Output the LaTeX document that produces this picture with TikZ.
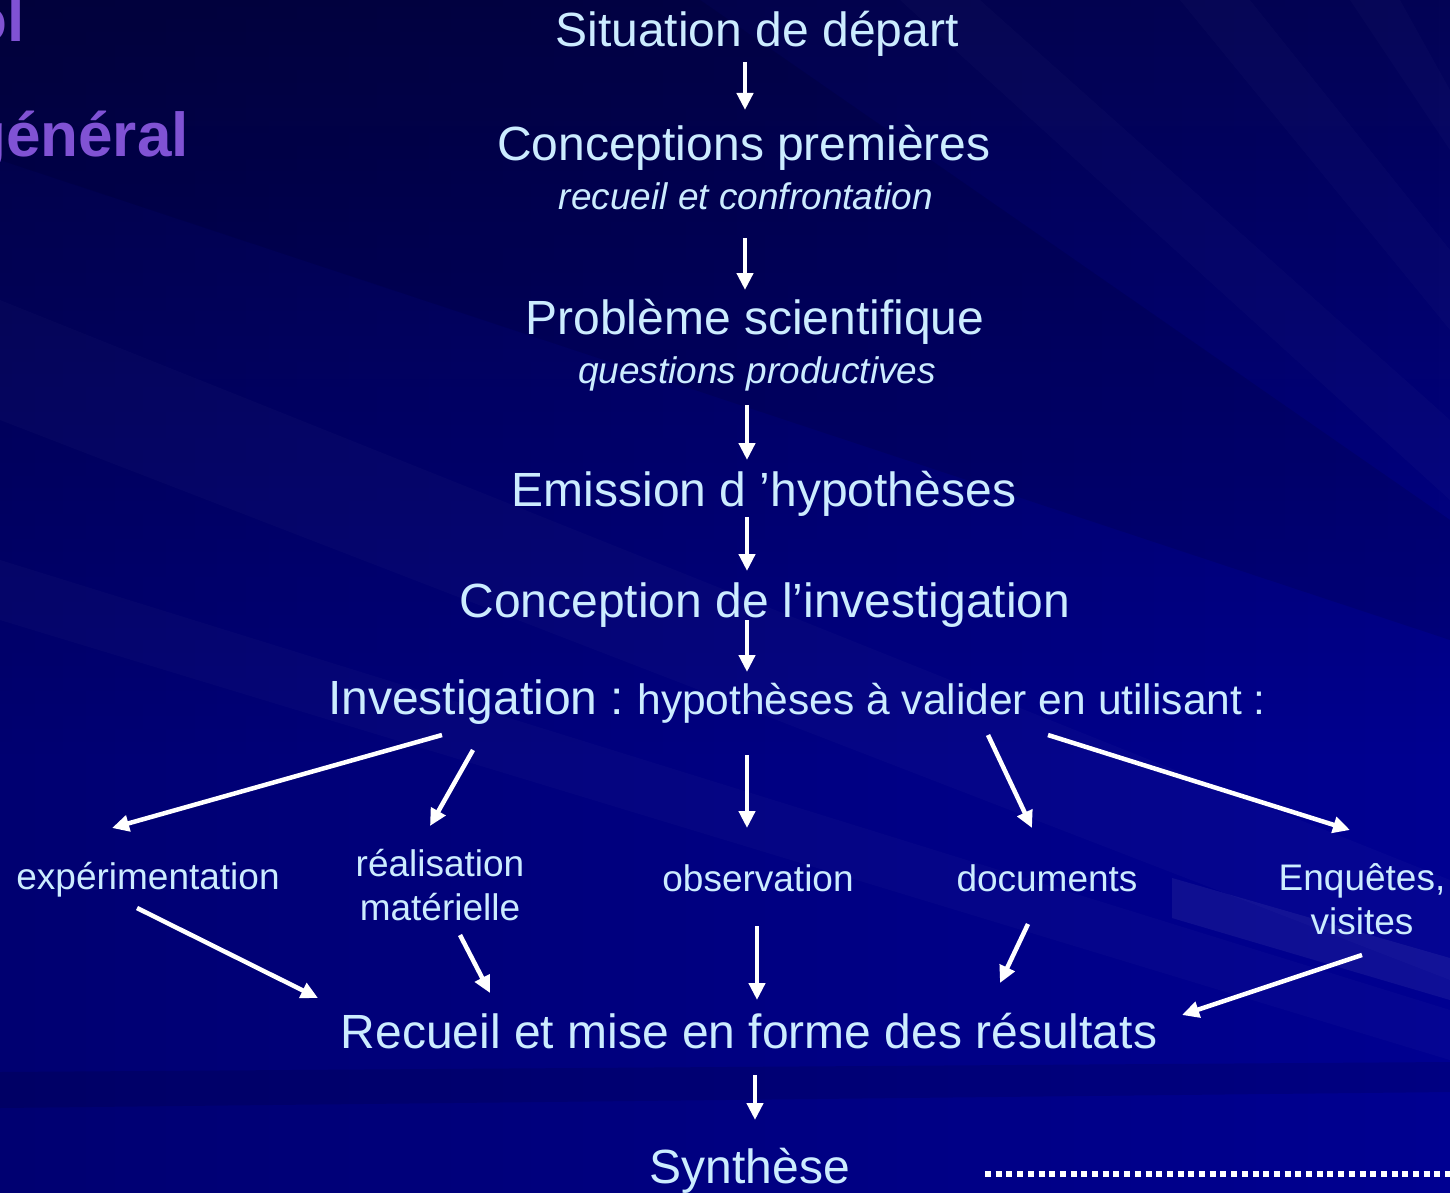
\documentclass[tikz,border=0pt]{standalone}
\usepackage{fontspec}
\setmainfont{Liberation Sans}
\usetikzlibrary{arrows.meta,fadings}
\definecolor{txt}{RGB}{204,236,255}
\definecolor{ttl}{RGB}{128,82,212}
\definecolor{bgA}{RGB}{3,3,85}
\definecolor{bgM}{RGB}{0,0,145}
\begin{document}
\begin{tikzpicture}[x=1pt,y=-1pt,
  lbl/.style={text=txt, inner sep=0pt, anchor=base},
  big/.style={lbl, font=\fontsize{48}{56}\selectfont},
  sub/.style={lbl, font=\itshape\fontsize{37}{44}\selectfont},
  small/.style={text=txt, inner sep=0pt, align=center, font=\fontsize{37}{44}\selectfont},
  ttlstyle/.style={text=ttl, inner sep=0pt, anchor=base west, font=\bfseries\fontsize{62}{70}\selectfont},
  arr/.style={draw=white, line width=4.5pt, -{Triangle[width=16pt,length=17pt]}},
  band/.style={fill=white, fill opacity=0.02, draw=none},
  dband/.style={fill=black, fill opacity=0.10, draw=none}]
\useasboundingbox (0,0) rectangle (1450,1193);
\begin{scope}
\clip (0,0) rectangle (1450,1193);
% background
\fill[bgM] (0,0) rectangle (1450,1193);
\shade[top color=bgA, bottom color=bgM] (0,0) rectangle (1450,760);
\fill[black, opacity=0.22, path fading=east] (0,0) rectangle (1450,1193);
\fill[dband] (0,0) -- (700,0) -- (1450,520) -- (1450,640) -- (0,160) -- cycle;
\fill[band] (0,300) -- (0,420) -- (1450,980) -- (1450,880) -- cycle;
\fill[band] (0,560) -- (0,620) -- (1450,1060) -- (1450,1010) -- cycle;
\fill[band] (900,0) -- (980,0) -- (1450,420) -- (1450,500) -- cycle;
\fill[band] (1180,0) -- (1250,0) -- (1450,250) -- (1450,330) -- cycle;
\fill[band] (1350,0) -- (1400,0) -- (1450,90) -- (1450,150) -- cycle;
\fill[fill=white, fill opacity=0.06] (1172,878) -- (1450,958) -- (1450,1000) -- (1172,918) -- cycle;
\fill[dband] (0,1072) -- (1450,1062) -- (1450,1092) -- (0,1108) -- cycle;

% title fragments (cut off at the left edge)
\node[ttlstyle] (tol) at (-31,42) {ol};
\node[ttlstyle] (tgen) at (-32,157) {général};

% main chain
\node[big] (sit) at (757,47) {Situation de départ};
\node[big] (concp) at (744,161) {Conceptions premières};
\node[sub] (recu) at (746,210) {recueil et confrontation};
\node[big] (prob) at (755,334) {Problème scientifique};
\node[sub] (ques) at (757,383) {questions productives};
\node[big] (emis) at (764,506) {Emission d ’hypothèses};
\node[big] (conc) at (765,617) {Conception de l’investigation};
\node[lbl, anchor=base west] (inv) at (328,714)
  {\fontsize{48}{56}\selectfont Investigation :\hspace{13pt}\fontsize{42.5}{50}\selectfont hypothèses à valider en utilisant :};

% branches
\node[small] (expe) at (148,880) {expérimentation};
\node[small] (real) at (440,885) {réalisation\\matérielle};
\node[small] (obs) at (758,878) {observation};
\node[small] (doc) at (1047,878) {documents};
\node[small] (enq) at (1362,899) {Enquêtes,\\visites};

\node[big] (rec) at (749,1048) {Recueil et mise en forme des résultats};
\node[big] (syn) at (750,1183) {Synthèse};

% arrow end points
\coordinate (v1s) at (745,62);   \coordinate (v1e) at (745,110);
\coordinate (v2s) at (745,238);  \coordinate (v2e) at (745,290);
\coordinate (v3s) at (747,405);  \coordinate (v3e) at (747,460);
\coordinate (v4s) at (747,517);  \coordinate (v4e) at (747,571);
\coordinate (v5s) at (747,620);  \coordinate (v5e) at (747,672);
\coordinate (d1s) at (442,735);  \coordinate (d1e) at (112,828);
\coordinate (d2s) at (473,750);  \coordinate (d2e) at (430,826);
\coordinate (d3s) at (747,755);  \coordinate (d3e) at (747,828);
\coordinate (d4s) at (988,735);  \coordinate (d4e) at (1032,828);
\coordinate (d5s) at (1048,735); \coordinate (d5e) at (1350,830);
\coordinate (u1s) at (137,908);  \coordinate (u1e) at (318,998);
\coordinate (u2s) at (460,935);  \coordinate (u2e) at (490,993);
\coordinate (u3s) at (757,926);  \coordinate (u3e) at (757,1000);
\coordinate (u4s) at (1028,924); \coordinate (u4e) at (1000,983);
\coordinate (u5s) at (1362,955); \coordinate (u5e) at (1182,1015);
\coordinate (v6s) at (755,1075); \coordinate (v6e) at (755,1120);

\draw[arr] (v1s) -- (v1e);
\draw[arr] (v2s) -- (v2e);
\draw[arr] (v3s) -- (v3e);
\draw[arr] (v4s) -- (v4e);
\draw[arr] (v5s) -- (v5e);
\draw[arr] (d1s) -- (d1e);
\draw[arr] (d2s) -- (d2e);
\draw[arr] (d3s) -- (d3e);
\draw[arr] (d4s) -- (d4e);
\draw[arr] (d5s) -- (d5e);
\draw[arr] (u1s) -- (u1e);
\draw[arr] (u2s) -- (u2e);
\draw[arr] (u3s) -- (u3e);
\draw[arr] (u4s) -- (u4e);
\draw[arr] (u5s) -- (u5e);
\draw[arr] (v6s) -- (v6e);

% dotted line
\coordinate (dotS) at (985,1174);
\coordinate (dotE) at (1452,1174);
\draw[white, line width=6pt, dash pattern=on 6pt off 4.7pt] (dotS) -- (dotE);
\end{scope}
\end{tikzpicture}
\end{document}
